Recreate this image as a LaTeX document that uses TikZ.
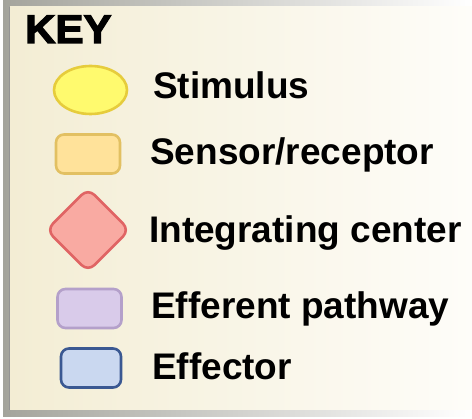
\documentclass[tikz,border=0pt]{standalone}
\usepackage{fontspec}
\setmainfont{Liberation Sans}
\newfontfamily\keyfont{Liberation Sans Bold}[FakeBold=3, FakeStretch=1.05]
\usetikzlibrary{shapes.geometric}
\definecolor{panelL}{HTML}{F3EDD4}
\definecolor{panelR}{HTML}{FEFDF9}
\definecolor{frameL}{HTML}{A4A49C}
\definecolor{frameR}{HTML}{FFFFFF}
\definecolor{stimF}{HTML}{FFFA6E}
\definecolor{stimD}{HTML}{E6CC3C}
\definecolor{sensF}{HTML}{FFE29A}
\definecolor{sensD}{HTML}{E2C062}
\definecolor{intF}{HTML}{F9AAA2}
\definecolor{intD}{HTML}{E06464}
\definecolor{effpF}{HTML}{D9CBEA}
\definecolor{effpD}{HTML}{B4A0CA}
\definecolor{effF}{HTML}{CAD8F0}
\definecolor{effD}{HTML}{3A5892}
\tikzset{
  keyshape/.style={line width=2.6pt},
  keybox/.style={keyshape, rounded corners=8pt, minimum width=64pt, minimum height=39pt, inner sep=0pt},
  keylabel/.style={anchor=base west, inner sep=0pt, font=\bfseries\fontsize{37}{44}\selectfont}
}
\begin{document}
\begin{tikzpicture}[x=1pt,y=-1pt]
\useasboundingbox (0,0) rectangle (472,419);
\fill[white] (0,0) rectangle (472,419);
% frame
\shade[left color=frameL, right color=frameR] (3,0) rectangle (472,417);
\shade[left color=panelL, right color=panelR] (10,7) rectangle (472,410);
\draw[line width=1.2pt, color=black!42] (9.6,7) -- (9.6,410);
% title
\node[anchor=base west, inner sep=0pt, font=\keyfont\fontsize{40}{46}\selectfont] (key) at (25,43) {KEY};
% symbols
\node[keyshape, ellipse, draw=stimD, fill=stimF, minimum width=73pt, minimum height=48pt, inner sep=0pt] (stim) at (90.5,90) {};
\node[keybox, draw=sensD, fill=sensF] (sens) at (88,154) {};
\node[keyshape, diamond, draw=intD, fill=intF, rounded corners=9pt, minimum width=84pt, minimum height=84pt, inner sep=0pt] (integ) at (88,230) {};
\node[keybox, draw=effpD, fill=effpF] (effp) at (89.5,308.5) {};
\node[keybox, draw=effD, fill=effF, minimum width=60pt] (eff) at (91,368) {};
% labels
\node[keylabel] (tstim) at (153,99) {Stimulus};
\node[keylabel] (tsens) at (150,165) {Sensor/receptor};
\node[keylabel] (tinteg) at (149,243) {Integrating center};
\node[keylabel] (teffp) at (151,319) {Efferent pathway};
\node[keylabel] (teff) at (152,380) {Effector};
\end{tikzpicture}
\end{document}
